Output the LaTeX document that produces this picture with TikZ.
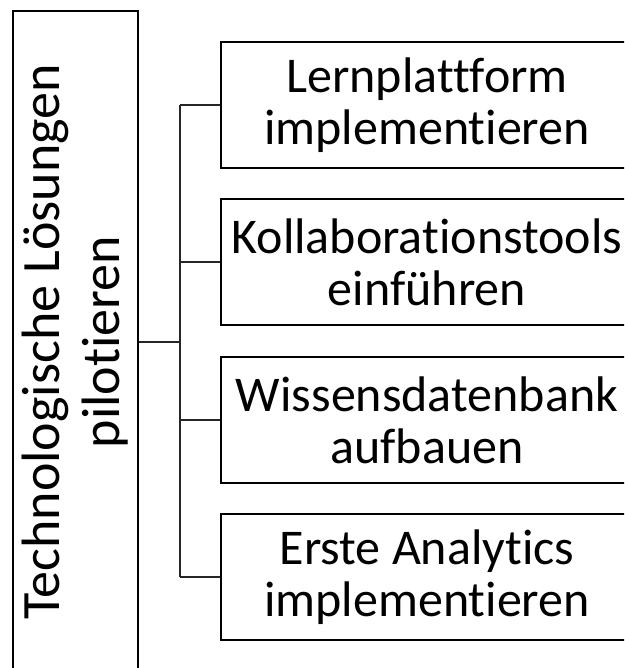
\documentclass[tikz,border=0pt]{standalone}
\usepackage{fontspec}
\setmainfont{Carlito}[Ligatures=NoCommon]
\begin{document}
\begin{tikzpicture}[x=1pt,y=-1pt,
  boxline/.style={draw=black, line width=2.2pt},
  topic/.style={boxline, rectangle, minimum width=125pt, minimum height=662pt,
    inner sep=0pt},
  topictext/.style={rotate=90, align=center, inner sep=0pt,
    font=\fontsize{54}{60}\selectfont},
  task/.style={boxline, rectangle, minimum width=412pt, minimum height=126pt,
    inner sep=0pt, align=center, font=\fontsize{50}{52}\selectfont},
  link/.style={draw=black!85, line width=2pt}]
  \useasboundingbox (0,0) rectangle (624,668);
  \begin{scope}
    \clip (0,0) rectangle (624,668);
    % main topic, text turned upright along the box
    \node[topic] (root) at (75.5,342) {};
    \node[topictext] (roottext) at (root.center)
      {Technologische Lösungen\\pilotieren};
    % work packages
    \node[task] (b1) at (427,105) {Lernplattform\\implementieren};
    \node[task] (b2) at (427,262) {Kollaborationstools\\einführen};
    \node[task] (b3) at (427,420) {Wissensdatenbank\\aufbauen};
    \node[task] (b4) at (427,577) {Erste Analytics\\implementieren};
    % tree connectors
    \coordinate (trunk) at (180,342);
    \draw[link] (root.east |- trunk) -- (trunk);
    \draw[link] (b1.west -| trunk) -- (b4.west -| trunk);
    \foreach \i in {1,...,4}
      \draw[link] (b\i.west -| trunk) -- (b\i.west);
  \end{scope}
\end{tikzpicture}
\end{document}
